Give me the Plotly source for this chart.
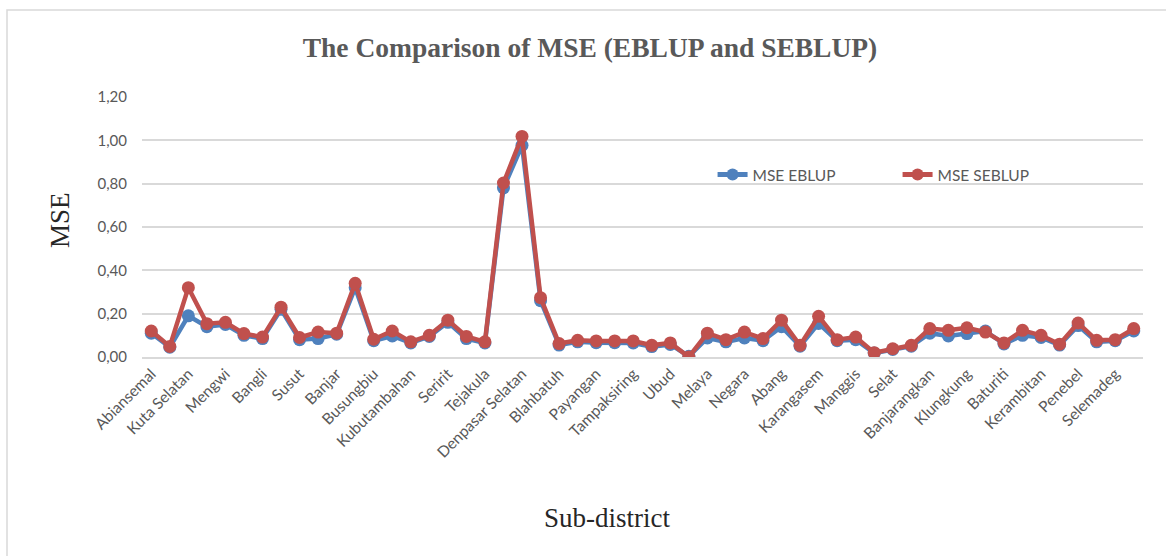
import plotly.graph_objects as go

categories = [
    "Abiansemal", "Kuta", "Kuta Selatan", "Kuta Utara", "Mengwi", "Petang",
    "Bangli", "Kintamani", "Susut", "Tembuku",
    "Banjar", "Buleleng", "Busungbiu", "Gerokgak", "Kubutambahan", "Sawan",
    "Seririt", "Sukasada", "Tejakula",
    "Denpasar Barat", "Denpasar Selatan", "Denpasar Timur",
    "Blahbatuh", "Gianyar", "Payangan", "Sukawati", "Tampaksiring", "Tegallalang", "Ubud",
    "Jembrana", "Melaya", "Mendoyo", "Negara", "Pekutatan",
    "Abang", "Bebandem", "Karangasem", "Kubu", "Manggis", "Rendang", "Selat", "Sidemen",
    "Banjarangkan", "Dawan", "Klungkung", "Nusa Penida",
    "Baturiti", "Kediri", "Kerambitan", "Marga", "Penebel", "Pupuan", "Selemadeg",
    "Selemadeg Barat",
]

mse_eblup = [
    0.11, 0.045, 0.19, 0.14, 0.15, 0.10, 0.085, 0.22, 0.08, 0.085,
    0.105, 0.32, 0.075, 0.097, 0.065, 0.095, 0.16, 0.085, 0.065,
    0.78, 0.977, 0.26,
    0.055, 0.07, 0.066, 0.066, 0.065, 0.048, 0.058,
    0.003, 0.088, 0.07, 0.088, 0.075,
    0.14, 0.05, 0.155, 0.075, 0.08, 0.018, 0.035, 0.05,
    0.11, 0.097, 0.108, 0.12,
    0.06, 0.10, 0.09, 0.055, 0.145, 0.07, 0.075, 0.12,
]

mse_seblup = [
    0.12, 0.049, 0.32, 0.154, 0.16, 0.108, 0.092, 0.23, 0.09, 0.115,
    0.11, 0.34, 0.082, 0.12, 0.07, 0.10, 0.17, 0.095, 0.07,
    0.803, 1.018, 0.274,
    0.062, 0.077, 0.074, 0.074, 0.074, 0.054, 0.065,
    0.0, 0.11, 0.08, 0.115, 0.085,
    0.17, 0.054, 0.188, 0.08, 0.092, 0.02, 0.038, 0.054,
    0.131, 0.123, 0.135, 0.115,
    0.065, 0.123, 0.10, 0.059, 0.157, 0.077, 0.08, 0.131,
]

tick_labels = categories[::2]

y_ticks = [0.0, 0.2, 0.4, 0.6, 0.8, 1.0, 1.2]

BLUE = "#4F81BD"
RED = "#C0504D"
GREY = "#595959"
SANS = "Lato, 'Liberation Sans', sans-serif"
SERIF = "'Liberation Serif', 'Times New Roman', serif"

fig = go.Figure()
fig.add_trace(go.Scatter(
    x=categories, y=mse_eblup, name="MSE EBLUP", mode="lines+markers",
    line=dict(color=BLUE, width=4.5), marker=dict(color=BLUE, size=13),
))
fig.add_trace(go.Scatter(
    x=categories, y=mse_seblup, name="MSE SEBLUP", mode="lines+markers",
    line=dict(color=RED, width=4.5), marker=dict(color=RED, size=13),
))

fig.update_layout(
    width=1166, height=556,
    margin=dict(l=142, r=23, t=97, b=199, autoexpand=False),
    paper_bgcolor="white", plot_bgcolor="white",
    separators=",.",
    title=dict(
        text="<b>The Comparison of MSE (EBLUP and SEBLUP)</b>",
        font=dict(family=SERIF, size=27.5, color=GREY),
        x=0.506, xref="container", xanchor="center", y=0.9155, yref="container", yanchor="middle",
    ),
    showlegend=True,
    legend=dict(
        orientation="h", x=0.570, y=0.70, xanchor="left", yanchor="middle",
        font=dict(family=SANS, size=15.5, color=GREY),
        bgcolor="rgba(0,0,0,0)", itemsizing="constant",
        entrywidth=140, entrywidthmode="pixels",
    ),
    xaxis=dict(
        type="category", automargin=False,
        tickmode="array", tickvals=tick_labels, ticktext=tick_labels,
        tickangle=-45, tickfont=dict(family=SANS, size=15.5, color=GREY),
        showgrid=False, showline=True, linecolor="#D9D9D9", linewidth=1.5,
        ticks="", range=[-0.5, len(categories) - 0.5],
    ),
    yaxis=dict(
        automargin=False,
        range=[0, 1.2], tickvals=y_ticks, tickformat=".2f",
        tickfont=dict(family=SANS, size=15, color=GREY),
        showgrid=True, gridcolor="#D9D9D9", gridwidth=1.5, zeroline=False,
        ticklabelstandoff=14,
    ),
    annotations=[
        dict(text="MSE", xref="paper", yref="paper", x=(60 - 142) / 1001, y=(357 - 220) / 260,
             xanchor="center", yanchor="middle", textangle=-90, showarrow=False,
             font=dict(family=SERIF, size=27, color="#262626")),
        dict(text="Sub-district", xref="paper", yref="paper", x=(607 - 142) / 1001, y=(357 - 518) / 260,
             xanchor="center", yanchor="middle", showarrow=False,
             font=dict(family=SERIF, size=27, color="#262626")),
    ],
    shapes=[dict(
        type="rect", xref="paper", yref="paper",
        x0=(7 - 142) / 1001, x1=1.05, y0=-0.9, y1=(357 - 10) / 260,
        line=dict(color="#D9D9D9", width=1.5), fillcolor="rgba(0,0,0,0)", layer="below",
    )],
)

fig.write_html(
    "out.html",
    config={"displayModeBar": False},
    post_script="document.body.style.margin='0';document.body.style.overflow='hidden';",
)
